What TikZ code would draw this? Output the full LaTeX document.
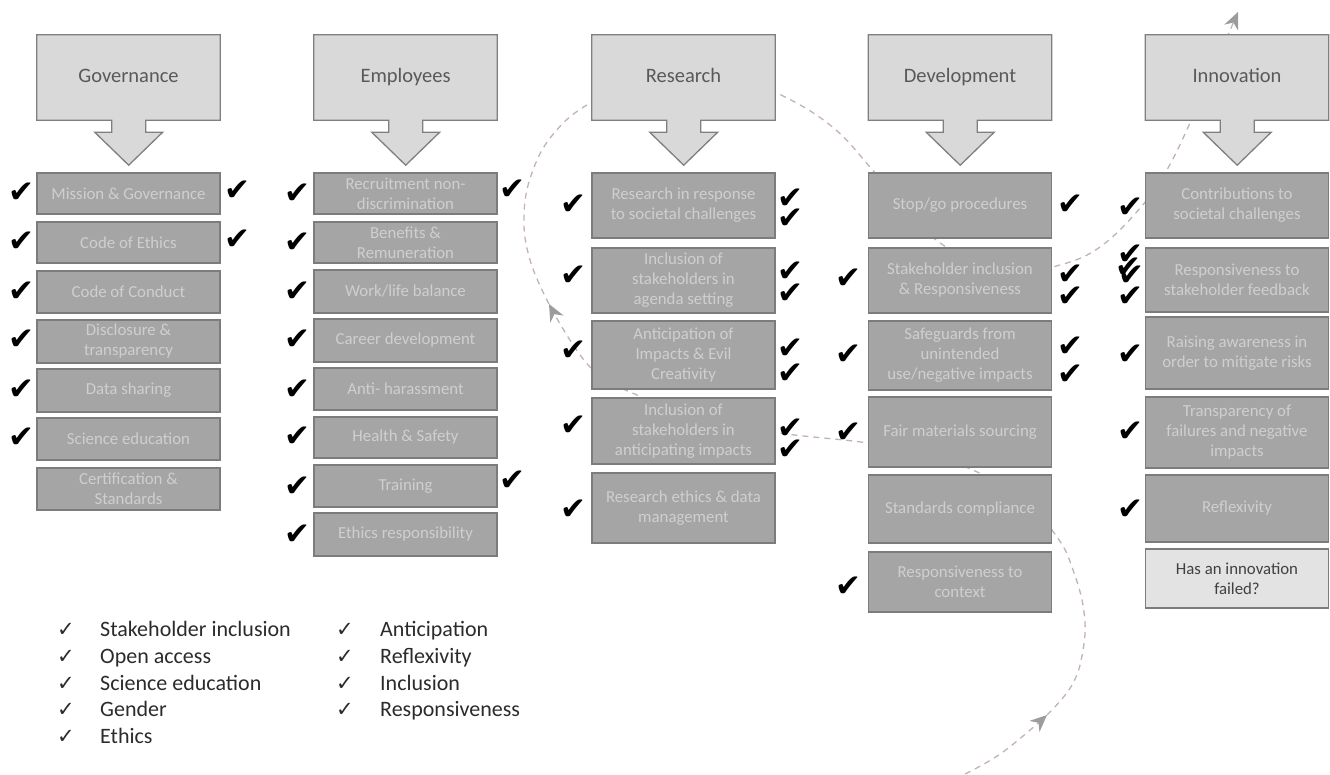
\documentclass[tikz,border=0pt]{standalone}
\usepackage{fontspec}
\setmainfont{Carlito}
\newfontfamily\symfont{DejaVu Sans}
\usetikzlibrary{arrows.meta,backgrounds}

\definecolor{hdfill}{HTML}{D9D9D9}
\definecolor{hdline}{HTML}{7F7F7F}
\definecolor{hdtext}{HTML}{595959}
\definecolor{itfill}{HTML}{A5A5A5}
\definecolor{itline}{HTML}{7C7C7C}
\definecolor{ittext}{HTML}{CFCFCF}
\definecolor{failfill}{HTML}{E3E3E3}
\definecolor{failtext}{HTML}{404040}
\definecolor{legtext}{HTML}{2B2B2B}
\definecolor{spiralline}{HTML}{C4B2B2}
\definecolor{tipgray}{HTML}{9C9C9C}

% header box with its down arrow
\newcommand\headarrow[1]{%
  \draw[headshape] (#1.north west) -- (#1.north east) -- (#1.south east)
    -- ++(-74.5,0) -- ++(0,12) -- ++(17,0) -- ++(-34,33) -- ++(-34,-33)
    -- ++(17,0) -- ++(0,-12) -- (#1.south west) -- cycle;}

\begin{document}
\begin{tikzpicture}[x=1pt,y=-1pt]
\tikzstyle{every node}+=[inner sep=0pt]
\tikzstyle{head}=[minimum width=183pt, minimum height=85pt, text height=14pt, text depth=4pt, text=hdtext, font=\fontsize{20.5}{24}\selectfont]
\tikzstyle{headshape}=[draw=hdline, fill=hdfill, line width=1.3pt]
\tikzstyle{item}=[draw=itline, fill=itfill, line width=1.3pt, minimum width=183pt, text=ittext, align=center, font=\fontsize{16.8}{20}\selectfont]
\tikzstyle{failitem}=[item, fill=failfill, text=failtext]
\tikzstyle{tick}=[font=\symfont\fontsize{31}{31}\selectfont, text=black]
\tikzstyle{legtick}=[text height=15pt, text depth=5pt, font=\symfont\fontsize{21}{21}\selectfont, text=legtext]
\tikzstyle{legend}=[anchor=west, text height=15pt, text depth=5pt, font=\fontsize{22}{26}\selectfont, text=legtext]
\tikzstyle{spiral}=[draw=spiralline, line width=1.3pt, dash pattern=on 6pt off 5pt]
\tikzstyle{tip}=[-{Stealth[length=17pt,width=15pt,color=tipgray]}]

\useasboundingbox (0,0) rectangle (1330,775);

% headers
\node[head] (gov) at (128.5,77.5) {Governance};
\node[head] (emp) at (405.5,77.5) {Employees};
\node[head] (res) at (683.5,77.5) {Research};
\node[head] (dev) at (960,77.5) {Development};
\node[head] (inn) at (1237,77.5) {Innovation};

% governance
\node[item, minimum height=41] (gov1) at (128.5,193.5) {Mission \& Governance};
\node[item, minimum height=41] (gov2) at (128.5,242.5) {Code of Ethics};
\node[item, minimum height=42] (gov3) at (128.5,292) {Code of Conduct};
\node[item, minimum height=43] (gov4) at (128.5,341.5) {Disclosure \&\\transparency};
\node[item, minimum height=43] (gov5) at (128.5,390.5) {Data sharing};
\node[item, minimum height=42] (gov6) at (128.5,439) {Science education};
\node[item, minimum height=42] (gov7) at (128.5,489) {Certification \&\\Standards};

% employees
\node[item, minimum height=41] (emp1) at (405.5,193.5) {Recruitment non-\\discrimination};
\node[item, minimum height=41] (emp2) at (405.5,242.5) {Benefits \&\\Remuneration};
\node[item, minimum height=43] (emp3) at (405.5,291.5) {Work/life balance};
\node[item, minimum height=43] (emp4) at (405.5,340.5) {Career development};
\node[item, minimum height=42] (emp5) at (405.5,389) {Anti- harassment};
\node[item, minimum height=41] (emp6) at (405.5,437.5) {Health \& Safety};
\node[item, minimum height=42] (emp7) at (405.5,486) {Training};
\node[item, minimum height=43] (emp8) at (405.5,534.5) {Ethics responsibility};

% research
\node[item, minimum height=65] (res1) at (683.5,205.5) {Research in response\\to societal challenges};
\node[item, minimum height=65] (res2) at (683.5,280.5) {Inclusion of\\stakeholders in\\agenda setting};
\node[item, minimum height=68] (res3) at (683.5,355) {Anticipation of\\Impacts \& Evil\\Creativity};
\node[item, minimum height=66] (res4) at (683.5,431) {Inclusion of\\stakeholders in\\anticipating impacts};
\node[item, minimum height=70] (res5) at (683.5,508) {Research ethics \& data\\management};

% development
\node[item, minimum height=65] (dev1) at (960,205.5) {Stop/go procedures};
\node[item, minimum height=65] (dev2) at (960,280.5) {Stakeholder inclusion\\\& Responsiveness};
\node[item, minimum height=69] (dev3) at (960,355.5) {Safeguards from\\unintended\\use/negative impacts};
\node[item, minimum height=70] (dev4) at (960,432) {Fair materials sourcing};
\node[item, minimum height=68] (dev5) at (960,509) {Standards compliance};
\node[item, minimum height=60] (dev6) at (960,582) {Responsiveness to\\context};

% innovation
\node[item, minimum height=65] (inn1) at (1237,205.5) {Contributions to\\societal challenges};
\node[item, minimum height=64] (inn2) at (1237,280) {Responsiveness to\\stakeholder feedback};
\node[item, minimum height=72] (inn3) at (1237,353) {Raising awareness in\\order to mitigate risks};
\node[item, minimum height=71] (inn4) at (1237,432.5) {Transparency of\\failures and negative\\impacts};
\node[item, minimum height=67] (inn5) at (1237,508.5) {Reflexivity};
\node[failitem, minimum height=59] (inn6) at (1237,578.5) {Has an innovation\\failed?};

% ticks
\node[tick] (tg1) at (21,193) {✔};
\node[tick] (tg2) at (21,242) {✔};
\node[tick] (tg3) at (21,292) {✔};
\node[tick] (tg4) at (21,340) {✔};
\node[tick] (tg5) at (21,390) {✔};
\node[tick] (tg6) at (21,438) {✔};
\node[tick] (tg1r) at (237,191) {✔};
\node[tick] (tg2r) at (237,240) {✔};
\node[tick] (te1) at (297,194) {✔};
\node[tick] (te2) at (297,243) {✔};
\node[tick] (te3) at (297,292) {✔};
\node[tick] (te4) at (297,340) {✔};
\node[tick] (te5) at (297,390) {✔};
\node[tick] (te6) at (297,437) {✔};
\node[tick] (te7) at (297,487) {✔};
\node[tick] (te8) at (297,535) {✔};
\node[tick] (te1r) at (512,190) {✔};
\node[tick] (te7r) at (512,481) {✔};
\node[tick] (tr1) at (573,205) {✔};
\node[tick] (tr2) at (573,276) {✔};
\node[tick] (tr3) at (573,351) {✔};
\node[tick] (tr4) at (573,426) {✔};
\node[tick] (tr5) at (573,510) {✔};
\node[tick] (tr1a) at (790,199) {✔};
\node[tick] (tr1b) at (790,219) {✔};
\node[tick] (tr2a) at (790,272) {✔};
\node[tick] (tr2b) at (790,294) {✔};
\node[tick] (tr3a) at (790,349) {✔};
\node[tick] (tr3b) at (790,374) {✔};
\node[tick] (tr4a) at (790,429) {✔};
\node[tick] (tr4b) at (790,450) {✔};
\node[tick] (td2) at (848,279) {✔};
\node[tick] (td3) at (848,355) {✔};
\node[tick] (td4) at (848,433) {✔};
\node[tick] (td6) at (848,587) {✔};
\node[tick] (td1r) at (1070,205) {✔};
\node[tick] (td2a) at (1070,275) {✔};
\node[tick] (td2b) at (1070,297) {✔};
\node[tick] (td3a) at (1070,347) {✔};
\node[tick] (td3b) at (1070,375) {✔};
\node[tick] (ti1) at (1130,208) {✔};
\node[tick] (ti2a) at (1130,255) {✔};
\node[tick] (ti2b) at (1128,268) {✔};
\node[tick] (ti2c) at (1131,276) {✔};
\node[tick] (ti2d) at (1130,297) {✔};
\node[tick] (ti3) at (1130,355) {✔};
\node[tick] (ti4) at (1130,432) {✔};
\node[tick] (ti5) at (1130,510) {✔};

% legend
\node[legtick] (lc1) at (66,631) {✓};
\node[legend] (l1) at (100,631) {Stakeholder inclusion};
\node[legtick] (lc2) at (66,658) {✓};
\node[legend] (l2) at (100,658) {Open access};
\node[legtick] (lc3) at (66,685) {✓};
\node[legend] (l3) at (100,685) {Science education};
\node[legtick] (lc4) at (66,711) {✓};
\node[legend] (l4) at (100,711) {Gender};
\node[legtick] (lc5) at (66,738) {✓};
\node[legend] (l5) at (100,738) {Ethics};
\node[legtick] (lc6) at (345,631) {✓};
\node[legend] (l6) at (380,631) {Anticipation};
\node[legtick] (lc7) at (345,658) {✓};
\node[legend] (l7) at (380,658) {Reflexivity};
\node[legtick] (lc8) at (345,685) {✓};
\node[legend] (l8) at (380,685) {Inclusion};
\node[legtick] (lc9) at (345,711) {✓};
\node[legend] (l9) at (380,711) {Responsiveness};

\begin{scope}[on background layer]
% dashed spiral behind the boxes
\draw[spiral, tip] plot[smooth, tension=0.7] coordinates {(965,774) (1003,752) (1047,715)};
\draw[spiral, tip] plot[smooth, tension=0.7] coordinates {(1047,715) (1072,685) (1083,650) (1084,612) (1073,570) (1057,537) (1020,495) (975,471) (930,455) (868,443) (773,432) (700,416) (637,395) (590,367) (549,304)};
\draw[spiral, tip] plot[smooth, tension=0.7] coordinates {(549,304) (530,260) (524,215) (533,170) (555,132) (590,103) (640,80) (690,74) (735,79) (777,93) (830,125) (870,167) (905,210) (943,245) (985,265) (1020,271) (1053,267) (1100,247) (1147,200) (1168,168) (1190,123) (1215,65) (1238,12)};
\headarrow{gov}
\headarrow{emp}
\headarrow{res}
\headarrow{dev}
\headarrow{inn}
\end{scope}
\end{tikzpicture}
\end{document}
